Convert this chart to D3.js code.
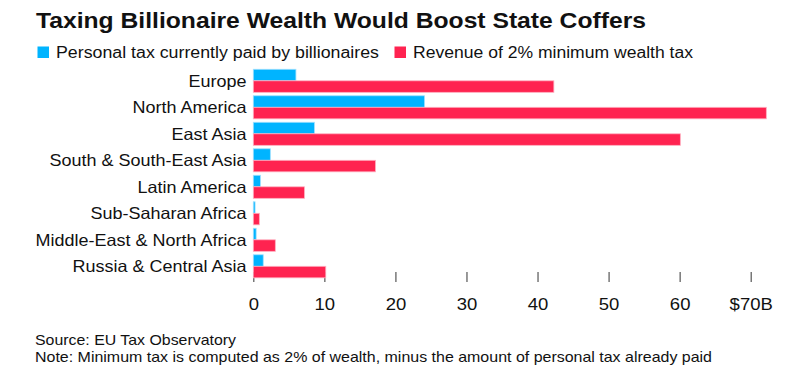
<!DOCTYPE html>
<html lang="en">
<head>
<meta charset="utf-8">
<title>Taxing Billionaire Wealth</title>
<script src="https://d3js.org/d3.v7.min.js"></script>
<style>
body { margin: 0; background: #fff; }
text { font-family: "Liberation Sans", Arial, sans-serif; fill: #111; }
</style>
</head>
<body>
<div id="chart"></div>
<script>
const regions = ["Europe", "North America", "East Asia", "South & South-East Asia",
  "Latin America", "Sub-Saharan Africa", "Middle-East & North Africa", "Russia & Central Asia"];
const seriesNames = ["Personal tax currently paid by billionaires", "Revenue of 2% minimum wealth tax"];
const personalTax = [6.0, 24.1, 8.6, 2.4, 1.0, 0.25, 0.4, 1.4];
const wealthTax = [42.3, 72.2, 60.1, 17.2, 7.2, 0.85, 3.1, 10.2];
const tickValues = [0, 10, 20, 30, 40, 50, 60, 70];
const colors = ["#00b4ff", "#ff2350"];

const width = 794, height = 386;
const svg = d3.select("#chart").append("svg")
    .attr("width", width)
    .attr("height", height);

// fit text to a measured width
function fit(sel, w) {
  sel.attr("textLength", w).attr("lengthAdjust", "spacingAndGlyphs");
}
// widen text by a factor (reference font is a bit wider)
function stretch(sel, k) {
  sel.each(function() {
    const w = this.getComputedTextLength();
    d3.select(this).attr("textLength", w * k).attr("lengthAdjust", "spacingAndGlyphs");
  });
}

svg.append("text")
    .attr("x", 36).attr("y", 27.5)
    .style("font-size", "21.5px").style("font-weight", "bold")
    .text("Taxing Billionaire Wealth Would Boost State Coffers")
    .call(fit, 610);

// legend
const legendPos = [{sq: 37.5, tx: 56, w: 323}, {sq: 394.5, tx: 413, w: 280}];
seriesNames.forEach(function(name, i) {
  svg.append("rect")
    .attr("x", legendPos[i].sq).attr("y", 46.5)
    .attr("width", 11.5).attr("height", 11.5)
    .attr("fill", colors[i]);
  svg.append("text")
    .attr("x", legendPos[i].tx).attr("y", 57.5)
    .style("font-size", "16px")
    .text(name)
    .call(fit, legendPos[i].w);
});

const x = d3.scaleLinear().domain([0, 70]).range([253.3, 750.7]);
const y = d3.scaleBand().domain(regions).range([67.55, 279.55])
    .paddingInner(0.13).paddingOuter(0.065);
const ySub = d3.scaleBand().domain([0, 1]).range([0, y.bandwidth()]);

// ticks
const axis = svg.append("g")
    .attr("transform", "translate(0,272)")
    .call(d3.axisBottom(x).tickValues(tickValues).tickSize(10)
      .tickFormat(function(d) { return d === 70 ? "$70B" : d; }));
axis.select(".domain").remove();
axis.selectAll(".tick line").attr("stroke", "#555").attr("stroke-width", 1.2);
axis.selectAll(".tick text")
    .attr("y", 38)
    .attr("dy", 0)
    .style("font-size", "16.5px")
    .style("font-family", "Liberation Sans, Arial, sans-serif")
    .attr("fill", "#111")
    .call(stretch, 1.12);

const groups = svg.selectAll(".grp")
  .data(regions)
  .enter().append("g")
    .attr("class", "grp")
    .attr("transform", function(d) { return "translate(0," + y(d) + ")"; });

[personalTax, wealthTax].forEach(function(vals, s) {
  groups.append("rect")
    .attr("x", x(0))
    .attr("y", ySub(s))
    .attr("width", function(d, i) { return x(vals[i]) - x(0); })
    .attr("height", ySub.bandwidth())
    .attr("fill", colors[s])
    .attr("stroke", s === 0 ? "#9fe0ff" : "#ffb0c0")
    .attr("stroke-width", 0.8);
});

groups.append("text")
    .attr("x", 246.5)
    .attr("y", y.bandwidth() / 2 + 6)
    .attr("text-anchor", "end")
    .style("font-size", "16.5px")
    .text(function(d) { return d; })
    .call(stretch, 1.09);

svg.append("text")
    .attr("x", 35).attr("y", 345)
    .style("font-size", "14.5px")
    .text("Source: EU Tax Observatory")
    .call(fit, 201);
svg.append("text")
    .attr("x", 35).attr("y", 361.5)
    .style("font-size", "14.5px")
    .text("Note: Minimum tax is computed as 2% of wealth, minus the amount of personal tax already paid")
    .call(fit, 677);
</script>
</body>
</html>
